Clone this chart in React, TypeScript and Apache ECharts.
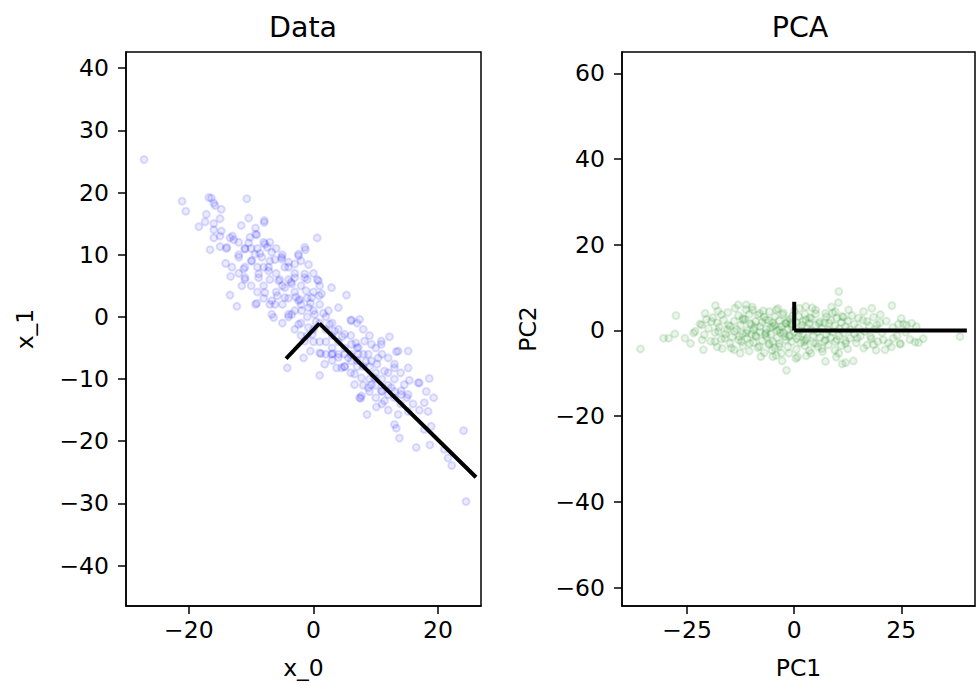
import React, { useEffect, useRef } from "react";
import * as echarts from "echarts";

// ---- Data ----
const dataTitle = "Data";
const pcaTitle = "PCA";
const dataXLabel = "x_0";
const dataYLabel = "x_1";
const pcaXLabel = "PC1";
const pcaYLabel = "PC2";

const dataXTicks = [-20, 0, 20];
const dataYTicks = [-40, -30, -20, -10, 0, 10, 20, 30, 40];
const pcaXTicks = [-25, 0, 25];
const pcaYTicks = [-60, -40, -20, 0, 20, 40, 60];

const dataXRange = [-30.1, 26.9];
const dataYRange = [-46.5, 42.6];
const pcaXRange = [-40.2, 42.2];
const pcaYRange = [-64.3, 65.0];

// principal component vectors
const dataMean: [number, number] = [0.96, -1.05];
const dataVec1End: [number, number] = [26.1, -25.8];
const dataVec2End: [number, number] = [-4.4, -6.7];
const pcaOrigin: [number, number] = [0, 0];
const pcaVec1End: [number, number] = [40.3, 0];
const pcaVec2End: [number, number] = [0, 6.7];

const dataPoints: [number, number][] = [
  [-27.2, 25.3],
  [-21.1, 18.6], [-20.5, 17.0], [-16.8, 19.2], [-16.4, 19.1], [-16, 18.3], [-15.8, 17.9], [-14.8, 17.3],
  [-17.2, 16.5], [-17.4, 15.3], [-18.4, 14.5], [-15, 15.8], [-10.7, 19.0], [-16, 14.0], [-14.8, 13.8],
  [-16, 12.7], [-13.4, 12.7], [-12.8, 12.4], [-16.6, 10.8], [-15, 11.3], [-13.9, 11.2], [-11.6, 14.7],
  [-10.4, 15.9], [-7.9, 15.5], [-9.3, 14.3], [-9.1, 13.2], [-10.2, 12.8], [-10.4, 11.9], [-11, 10.9],
  [-12, 9.6], [-14.1, 8.6], [-13.1, 8.0], [-13.3, 6.5], [-11.5, 5.0], [-13.4, 3.5], [-12.3, 1.7],
  [-9.3, 2.0], [0.6, 12.7], [-7, 12.0], [-7.4, 11.2], [-11.2, 7.7], [-9.9, 9.0], [-8.3, 9.6], [-11, 6.3],
  [-8.8, 6.9], [-7.2, 8.0], [-5.1, 9.3], [-2.4, 9.8], [-1.3, 10.8], [-0.8, 8.4], [-4, 8.8], [-5.6, 5.8],
  [-7.8, 3.9], [-6.2, 2.0], [-4.6, 4.7], [-3, 6.3], [-1.4, 6.9], [-2.4, 2.6], [-0.8, 1.5], [0.8, 5.8],
  [-6.7, 0.4], [-3.5, 0.4],
  [-7.9, 15.2], [-9.3, 13.3], [-7.8, 11.7], [-9.4, 10.1], [-6.7, 10.4], [-5.1, 9.6], [-2.4, 10.1],
  [-1.4, 11.2], [-3, 8.5], [-4.6, 8.0], [-7.2, 7.4], [-8.8, 6.3], [-5.4, 6.0], [-3.5, 5.3], [-1.4, 6.3],
  [0.6, 6.0], [2.9, 4.7], [5.3, 3.5], [-9.1, 2.2], [-6.7, 2.6], [-4.6, 3.1], [-2.2, 2.8], [-0.3, 3.1],
  [1.3, 3.7], [4, 1.5], [-6.4, -0.1], [-4, 0.4], [-1.9, 1.0], [0.2, 0.4], [2.4, 1.0], [6.1, -0.6],
  [7.4, -0.4], [-2.4, -1.2], [-0.8, -1.7], [3.4, -2.3], [5, -2.8], [-1.4, -3.9], [1, -5.8], [1.2, -5.9],
  [3.1, -5.9], [2.9, -6.0], [1.8, -7.6], [1, -9.4], [-1.6, -6.6], [-4.2, -8.2], [4.5, -8.2], [6.1, -7.1],
  [7.2, -4.9], [9.3, -4.4], [10.9, -3.9], [12.2, -3.2], [8.8, -6.0], [10.4, -6.6], [12, -6.6],
  [13.6, -5.5], [15.2, -5.5], [15.2, -8.2], [13, -8.2], [11.4, -8.7], [7.7, -9.8], [6.6, -10.9],
  [9.3, -10.9], [7.7, -12.7], [14.6, -10.9], [16.8, -10.6], [14.1, -12.5], [12, -12.5],
  [13.3, -5.6], [10.9, -4.4], [8.2, -3.9], [6.1, -4.4], [4, -6.0], [5, -8.0], [6.6, -9.2], [8.8, -11.4],
  [9.8, -9.8], [13, -7.6], [15.4, -10.2], [17, -10.6], [18.6, -9.9], [18.1, -12], [19.3, -13],
  [17.8, -13.8], [18.4, -15.2], [7.4, -13], [7.6, -13.1], [10.1, -14.5], [8.6, -15.7], [11.4, -13.5],
  [13, -13], [13.6, -15.7], [13, -17.3], [13.3, -17.9], [13.8, -19.5], [15.2, -15.2], [16.5, -21],
  [18.7, -20.6], [17.8, -18.1], [18.9, -17.6], [24.1, -18.3], [21, -21.3], [21.6, -22.7], [22.2, -23.9],
  [24.5, -29.7], [3.7, -8.2], [5.6, -6.6], [7.2, -6.0], [9.3, -7.1], [10.9, -11.9], [12.5, -11.4],
  [14.1, -11.9], [15.2, -12.5],
  [-2, 2], [-1, 3], [0, 1], [1, -1], [2, -2], [-3, 4], [-1, 0], [0, -2], [1, 2], [2, 0], [3, -3],
  [-2, 5], [0, 4], [-4, 6], [-3, 1], [-2, -1], [1, -4], [2, -4], [3, -1], [4, -2], [-5, 5], [-6, 7],
  [-4, 3], [-1, 6], [0, 7], [1, 5], [-7, 9], [-8, 8], [-6, 4], [-5, 2], [3, -5], [4, -4], [5, -5],
  [6, -3], [5, -6], [6, -6], [7, -7], [8, -8], [9, -8], [10, -9], [8, -6], [9, -10], [10, -11],
  [11, -10], [12, -11], [11, -12], [12, -9], [13, -10], [7, -5], [-9, 11], [-10, 9], [-11, 11],
  [-12, 12], [-13, 13], [-8, 12], [-9, 8], [-10, 11], [-11, 8], [-12, 10], [-14, 11], [-15, 13],
  [-16, 15], [-4, 8], [-3, 7], [-2, 9], [-5, 10], [-6, 11], [-7, 6], [-8, 5], [-1, -3], [0, -4],
  [2, -6], [-0.5, -5.5], [3, -7], [4, -6.5], [5, -8], [6, -9], [7, -8], [8, -11], [9, -12], [10, -13],
  [11, -14], [14, -14], [15, -13], [16, -14], [17, -15], [12, -15], [13, -12], [14, -9], [11, -6],
  [10, -5], [9, -3], [8, -2], [7, -1], [6, -0.5], [-2, -3], [-3, -2], [-4, 0], [-5, -1], [-7, 2],
  [-8, 3], [-9, 4], [-10, 5], [-11, 6], [-12, 7],
  [-0.5, 2.2], [0.4, -0.8], [-1.2, 4.2], [1.6, 0.6], [-0.2, -2.8], [2.6, -1.2], [-2.8, 3.2], [0.9, 3.4],
  [-3.6, 5.6], [-6.2, 9.2], [-8.6, 10.2], [-5.8, 3.4], [4.6, -3.2], [6.8, -4.2], [8.4, -7.2], [10.2, -7.6],
];

const pcaPoints: [number, number][] = [
  [-35.9, -4.3], [-27.6, 3.5], [-30.5, -1.8], [-29.3, -1.8], [-27.9, -0.8], [-25.5, -1.8], [-24.2, -3],
  [-23.5, -0.6], [-23.1, -0.2], [-20.8, 4.0], [-18.4, 5.8], [-21.6, 1.3], [-21.2, -4.5], [-19.3, 2.1],
  [-17, 3.7], [-17.7, -0.2], [-16.2, -1.8], [-18.5, -2.6], [-14.7, -4.1], [-15.4, 1.3], [-13.1, 6.0],
  [-13.9, -0.2], [-12.3, -2.6], [-12, 2.9],
  [-11.2, 6.0], [-9.7, 4.8], [-8.1, 4.0], [-12, 2.5], [-10.4, 1.7], [-6.6, 2.5], [-4.2, 4.8],
  [-2.7, 3.7], [-5, 0.9], [-3.5, 0.2], [-1.9, 1.7], [-1.2, -1.4], [-11.2, -0.6], [-8.9, -1.4],
  [-6.6, -0.6], [-5.8, -3], [-3.5, -3.7], [-8.1, -3.7], [-10.4, -3], [-1.2, -5.3], [-5, -6.1],
  [0.4, -6.5], [2.7, 5.6], [5, 4.8], [7.3, 4.0], [10.4, 9.1], [10.3, 6.5], [9.6, 4.4], [11.2, 3.3],
  [12.7, 4.8], [2.7, 2.5], [5.8, 1.7], [8.1, 1.7], [2.7, -2.2], [5, -3], [7.3, -2.2], [9.6, -2.6],
  [12, -3], [10.4, -5.3], [6.6, -4.9], [3.9, -5.3], [12, -7.5], [7.3, -7.2],
  [18.1, 5.2], [22.8, 5.8], [15, 2.9], [17, 2.1], [20.1, 3.7], [19.3, 1.3], [24.3, 1.5], [25.5, 1.5],
  [27.4, 1.7], [26.2, 1.3], [14.7, -1.8], [17.8, -1.4], [20.8, -2.2], [23.1, -1.8], [24.7, -3],
  [28.2, -2.7], [30.1, -1.9], [38.7, -1.4], [16.2, -4.1], [21.2, -4.5], [18.5, -3.3],
  [-22, 1.5], [-21, -1], [-20, 0.5], [-19.5, -2.5], [-19, 3], [-18.5, -0.5], [-18, 1.8], [-18, -3.8],
  [-21.5, -2.2], [-20.5, 2.6],
  [-17.5, 0.8], [-17, -2], [-16.5, 2.5], [-16, -0.8], [-15.5, 4.2], [-15, -3], [-15, 1], [-14.5, -1.5],
  [-14, 2.2], [-14, -4.5], [-16.8, -4.2], [-17.8, 4.5],
  [-13.5, 0.3], [-13, -2.2], [-13, 3.5], [-12.5, 1.2], [-12, -0.7], [-12, -3.6], [-11.5, 2.6], [-11, 0],
  [-11, -1.9], [-10.5, 3.8], [-10.5, -4.8], [-10, 1.4], [-10, -0.9], [-13.8, 5.2], [-12.6, -5.3],
  [-11.3, 4.9],
  [-9.5, 0.2], [-9.5, -2.8], [-9, 2.1], [-9, -1.2], [-8.5, 3.6], [-8.5, -4], [-8, 0.9], [-8, -0.4],
  [-7.5, 1.9], [-7.5, -2.4], [-7, -5.2], [-7, 3.1], [-6.5, 0.3], [-6.5, -1.5], [-6, 2.4], [-6, -3.3],
  [-9.8, 5.5], [-7.8, -6.1],
  [-5.5, 0.7], [-5.5, -0.9], [-5, 1.8], [-5, -2.6], [-4.5, 3.2], [-4.5, -4.1], [-4, 0], [-4, -1.7],
  [-3.5, 2.3], [-3.5, -3.1], [-3, 0.9], [-3, -5.3], [-2.5, -0.5], [-2.5, 4.1], [-2, 1.6], [-2, -2.2],
  [-5.8, 4.4], [-4.2, -5.8], [-2.8, -7.1], [-3.8, 5.1],
  [-1.5, 0.4], [-1.5, -3.8], [-1, 2.7], [-1, -1.1], [-0.5, 0.8], [-0.5, -2.6], [0, 4.6], [0, -0.3],
  [0.5, 1.9], [0.5, -4.4], [1, -1.3], [1, 3.3], [1.5, 0.1], [1.5, -2.9], [2, 2.1], [2, -0.7],
  [-1.8, -9.3], [0.8, -6.2], [1.2, 5.2],
  [2.5, -3.6], [2.5, 3.8], [3, 0.6], [3, -1.8], [3.5, 1.7], [3.5, -4.7], [4, 0], [4, 2.8], [4.5, -1.1],
  [4.5, -2.9], [5, 1.2], [5, 3.9], [5.5, -0.4], [5.5, -3.8], [6, 2.1], [6, -1.6], [4.2, 5.3], [2.8, -5.9],
  [6.5, 0.5], [6.5, -4.2], [7, 1.8], [7, -2.5], [7.5, 3.2], [7.5, -0.9], [8, 0.1], [8, -3.4], [8.5, 2.4],
  [8.5, -1.7], [9, 4.1], [9, -0.3], [9.5, 1.1], [9.5, -4.6], [10, 2.9], [10, -2.1], [8.7, 5.5], [9.8, -6.2],
  [10.5, 0.4], [10.5, -1.2], [11, 1.9], [11, -3.5], [11.5, 3.1], [11.5, -0.6], [12, 0.9], [12, -2.4],
  [12.5, 2.2], [12.5, -4.3], [13, 0.2], [13, -1.8], [13.5, 3.5], [14, -0.8], [14, 1.5], [11.2, -7.8],
  [13.8, -7.1],
  [14.5, -2.9], [15, 0.6], [15.5, -1.3], [16, 2.4], [16.5, -0.2], [17, -3.4], [17.5, 1.1], [18, -1.9],
  [18.5, 3.1], [19, 0.3], [19.5, -2.6], [20, 1.8], [16.2, 4.4], [19.1, -4.6],
  [20.5, -0.5], [21.5, 2.2], [22, -2.9], [23, 0.7], [24, -1.2], [25, 2.8], [26, -0.4], [27, -2.1],
  [28.5, 0.9], [29, -2.8], [22.7, -3.8], [24.8, -3.2],
  [-4.6, 1.2], [-2.2, -1.4], [-0.8, 1.6], [0.6, -1.9], [-3.2, -0.6], [-1.6, 2.2], [1.8, 1.2], [-6.8, -0.9],
  [-9.2, 0.8], [-12.8, -1.4], [-15.6, 0.2], [2.4, -2.6], [-5.2, -4.6], [-7.2, 4.6], [-0.4, 3.4], [3.6, 3.0],
];

const FONT = "DejaVu Sans";
const minus = (v: number) => String(v).replace("-", "\u2212");

function axisCommon(ticks: number[], range: number[], gridIndex: number, name: string, nameGap: number, isY: boolean) {
  return {
    type: "value",
    gridIndex,
    min: range[0],
    max: range[1],
    name,
    nameLocation: "middle",
    nameGap,
    nameTextStyle: { color: "#000", fontSize: 23.5, fontFamily: FONT },
    axisLine: { show: true, onZero: false, lineStyle: { color: "#000", width: 1.5 } },
    axisTick: { show: true, customValues: ticks, length: 8, inside: false, lineStyle: { color: "#000", width: 1.5 } },
    axisLabel: {
      show: true,
      customValues: ticks,
      margin: isY ? 17 : 12,
      color: "#000",
      fontSize: 23.5,
      fontFamily: FONT,
      formatter: (v: number) => minus(v),
    },
    splitLine: { show: false },
  };
}

export default function App() {
  const ref = useRef<HTMLDivElement>(null);
  useEffect(() => {
    if (!ref.current) return;
    const chart = echarts.init(ref.current, undefined, { renderer: "svg" });
    const gridStyle = { show: true, borderColor: "#000", borderWidth: 1.5, backgroundColor: "transparent", containLabel: false };
    const scatterStyle = (rgb: string) => ({
      color: `rgba(${rgb},0.1)`,
      borderColor: `rgba(${rgb},0.16)`,
      borderWidth: 2,
    });
    chart.setOption({
      animation: false,
      backgroundColor: "#fff",
      grid: [
        { ...gridStyle, left: 126, top: 52, width: 355, height: 554 },
        { ...gridStyle, left: 622, top: 52, width: 353, height: 554 },
      ],
      xAxis: [
        axisCommon(dataXTicks, dataXRange, 0, dataXLabel, 50, false),
        axisCommon(pcaXTicks, pcaXRange, 1, pcaXLabel, 50, false),
      ],
      yAxis: [
        axisCommon(dataYTicks, dataYRange, 0, dataYLabel, 89, true),
        axisCommon(pcaYTicks, pcaYRange, 1, pcaYLabel, 82, true),
      ],
      graphic: [
        {
          type: "text",
          x: 303,
          y: 27,
          style: { text: dataTitle, font: `28.5px "${FONT}"`, fill: "#000", textAlign: "center", textVerticalAlign: "middle", align: "center", verticalAlign: "middle" },
        },
        {
          type: "text",
          x: 800,
          y: 27,
          style: { text: pcaTitle, font: `28.5px "${FONT}"`, fill: "#000", textAlign: "center", textVerticalAlign: "middle", align: "center", verticalAlign: "middle" },
        },
      ],
      series: [
        {
          type: "scatter",
          xAxisIndex: 0,
          yAxisIndex: 0,
          data: dataPoints,
          symbol: "circle",
          symbolSize: 7,
          itemStyle: scatterStyle("0,0,255"),
          silent: true,
          emphasis: { disabled: true },
        },
        {
          type: "line",
          xAxisIndex: 0,
          yAxisIndex: 0,
          data: [dataMean, dataVec1End],
          symbol: "none",
          lineStyle: { color: "#000", width: 4 },
          silent: true,
        },
        {
          type: "line",
          xAxisIndex: 0,
          yAxisIndex: 0,
          data: [dataMean, dataVec2End],
          symbol: "none",
          lineStyle: { color: "#000", width: 4 },
          silent: true,
        },
        {
          type: "scatter",
          xAxisIndex: 1,
          yAxisIndex: 1,
          data: pcaPoints,
          symbol: "circle",
          symbolSize: 7,
          itemStyle: scatterStyle("0,128,0"),
          silent: true,
          emphasis: { disabled: true },
        },
        {
          type: "line",
          xAxisIndex: 1,
          yAxisIndex: 1,
          data: [pcaOrigin, pcaVec1End],
          symbol: "none",
          lineStyle: { color: "#000", width: 4 },
          silent: true,
        },
        {
          type: "line",
          xAxisIndex: 1,
          yAxisIndex: 1,
          data: [pcaOrigin, pcaVec2End],
          symbol: "none",
          lineStyle: { color: "#000", width: 4 },
          silent: true,
        },
      ],
    });
    return () => chart.dispose();
  }, []);
  return (
    <div
      ref={ref}
      style={{ position: "fixed", left: 0, top: 0, width: 976, height: 686, background: "#fff" }}
    />
  );
}
